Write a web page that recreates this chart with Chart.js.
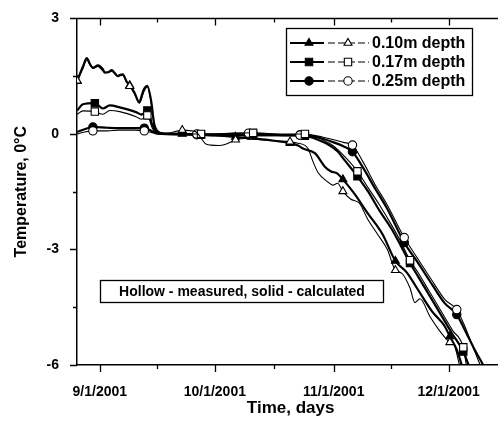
<!DOCTYPE html>
<html>
<head>
<meta charset="utf-8">
<script src="https://cdn.jsdelivr.net/npm/chart.js@4.4.0/dist/chart.umd.min.js"></script>
<style>
  html, body { margin: 0; padding: 0; background: #fff; overflow: hidden; width: 498px; height: 423px; }
  #wrap { position: relative; width: 510px; height: 423px; }
</style>
</head>
<body>
<div id="wrap"><canvas id="chart" width="510" height="423"></canvas></div>
<script>
/* ===== Data (days since 9/1/2001, temperature in °C) ===== */
const MARK_10 = [-5.9, 7.8, 21.5, 35.4, 49.6, 63.4, 77.1, 91.3];
const MARK_17 = [-1.3, 12.4, 26.4, 40, 53.5, 67.2, 80.9, 94.8];
const MARK_25 = [-1.8, 11.6, 25.3, 38.8, 52.2, 65.9, 79.4, 93.1];

// 0.10 m, calculated
const DAYS_10_CALC = [-5.9, -4.4, -3.4, -2.6, -1.8, -0.5, 0.8, 1.3, 2.2, 3.1, 3.9, 4.7, 5.2, 6.0, 7.0, 7.8, 9.0, 10.3, 11.0, 11.6, 12.4, 13.4, 14.2, 15.0, 16.0, 18, 21.5, 26, 30, 35.4, 40, 45, 49.6, 51.7, 53, 56.1, 58.7, 60.2, 62, 63.4, 66.4, 69.8, 73.7, 77.1, 80.1, 82.7, 86.6, 90, 91.3, 93.1, 94.4];
const TEMP_10_CALC = [1.38, 1.75, 1.97, 1.82, 1.72, 1.78, 1.68, 1.59, 1.6, 1.66, 1.58, 1.5, 1.53, 1.55, 1.36, 1.26, 1.08, 0.82, 1.02, 1.18, 1.25, 0.85, 0.25, 0.08, 0.02, 0.0, 0.0, -0.02, -0.04, -0.08, -0.12, -0.17, -0.24, -0.3, -0.38, -0.5, -0.85, -0.97, -1.03, -1.18, -1.55, -2.05, -2.6, -3.3, -3.6, -4.0, -4.6, -5.0, -5.26, -5.6, -6.0];

// 0.10 m, measured
const DAYS_10_MEAS = [-5.9, -4.4, -3.4, -2.6, -1.8, -0.5, 1.3, 3.1, 4.7, 6.0, 7.0, 7.8, 9.0, 10.3, 11.6, 12.4, 13.4, 14.2, 15.0, 16.0, 18, 21.5, 25, 26.5, 27.5, 29, 31, 33, 35.4, 38, 42, 46, 49.6, 51.7, 54.3, 55.6, 56.9, 59.5, 60.8, 62, 63.4, 65.4, 67.7, 69.8, 72.4, 75, 77.1, 78.8, 80.9, 82.2, 83.5, 86.1, 88.4, 90, 91.3, 92.5, 93.8];
const TEMP_10_MEAS = [1.38, 1.7, 1.92, 1.8, 1.7, 1.75, 1.6, 1.62, 1.5, 1.52, 1.35, 1.24, 1.05, 0.8, 1.12, 1.22, 0.8, 0.2, 0.05, 0.0, 0.02, 0.1, 0.06, -0.12, -0.25, -0.29, -0.3, -0.26, -0.15, -0.12, -0.15, -0.18, -0.2, -0.24, -0.38, -0.72, -1.0, -1.25, -1.33, -1.28, -1.49, -1.69, -1.8, -2.2, -2.6, -3.0, -3.54, -3.62, -4.0, -4.38, -4.28, -4.74, -5.08, -5.28, -5.41, -5.5, -6.0];

// 0.17 m, calculated
const DAYS_17_CALC = [-5.9, -4.4, -1.3, 0.8, 2.6, 5.2, 9.6, 10.9, 12.4, 13.7, 14.7, 16, 20, 26.4, 30, 35, 40, 46, 50, 53.5, 56.9, 60, 62, 64, 67.2, 70, 73, 76.3, 78.5, 80.9, 83, 86, 89, 92, 94.8, 96.2];
const TEMP_17_CALC = [0.61, 0.77, 0.8, 0.66, 0.74, 0.69, 0.56, 0.5, 0.61, 0.23, 0.06, 0.0, 0.0, -0.02, -0.03, -0.03, -0.03, -0.03, -0.04, -0.05, -0.15, -0.3, -0.45, -0.7, -1.1, -1.5, -2.0, -2.5, -2.9, -3.35, -3.7, -4.2, -4.7, -5.2, -5.65, -6.0];

// 0.17 m, measured
const DAYS_17_MEAS = [-5.9, -4.4, -1.3, 0.8, 2.6, 5.2, 9.6, 10.9, 12.4, 13.7, 14.7, 16, 20, 26.4, 30, 35, 40, 46, 50, 53.5, 56, 58, 60, 62, 64, 67.2, 70, 73, 76.3, 78.5, 80.9, 83, 86, 89, 92, 94.8, 95.6];
const TEMP_17_MEAS = [0.51, 0.6, 0.58, 0.51, 0.61, 0.58, 0.44, 0.38, 0.48, 0.15, 0.03, 0.0, 0.0, 0.0, 0.0, 0.02, 0.03, 0.0, 0.0, 0.0, -0.05, -0.15, -0.25, -0.4, -0.6, -0.97, -1.4, -1.85, -2.4, -2.8, -3.28, -3.6, -4.1, -4.6, -5.1, -5.54, -6.0];

// 0.25 m, calculated
const DAYS_25_CALC = [-5.9, -4, -1.8, 2, 5, 9, 11.6, 13.4, 14.7, 16, 25.3, 38.8, 52.2, 55, 58, 61, 63.5, 65.9, 68.5, 72, 75, 79.4, 83, 86.6, 90, 93.1, 95, 97.5, 100];
const TEMP_25_CALC = [0.05, 0.12, 0.18, 0.16, 0.15, 0.15, 0.15, 0.08, 0.02, 0.0, -0.02, -0.03, -0.03, -0.05, -0.12, -0.22, -0.32, -0.46, -0.85, -1.45, -1.95, -2.82, -3.35, -3.9, -4.4, -4.69, -5.05, -5.55, -6.0];

// 0.25 m, measured
const DAYS_25_MEAS = [-5.9, -4, -1.8, 2, 5, 9, 11.6, 13.4, 15, 25.3, 38.8, 52.2, 55, 58, 61, 63.5, 65.9, 68.5, 72, 75, 79.4, 83, 86.6, 90, 93.1, 95, 97, 99.2];
const TEMP_25_MEAS = [0.0, 0.05, 0.08, 0.08, 0.1, 0.1, 0.08, 0.04, 0.0, 0.0, 0.02, -0.03, -0.03, -0.08, -0.15, -0.22, -0.29, -0.7, -1.35, -1.85, -2.69, -3.25, -3.8, -4.3, -4.56, -4.95, -5.45, -6.0];

const X_TICKS = [0, 15, 30, 45.5, 61, 76, 91];
const X_LABELS = { 0: '9/1/2001', 30: '10/1/2001', 61: '11/1/2001', 91: '12/1/2001' };
const Y_TICKS = [-6, -4.5, -3, -1.5, 0, 1.5, 3];
const Y_LABELS = { '-6': '-6', '-3': '-3', '0': '0', '3': '3' };

const LEGEND = ['0.10m depth', '0.17m depth', '0.25m depth'];
const LEGEND_STYLES = ['triangle', 'rect', 'circle'];
const NOTE = 'Hollow - measured, solid - calculated';

/* ===== Helpers ===== */
const FONT = '"Liberation Sans", Arial, Helvetica, sans-serif';
Chart.defaults.font.family = FONT;
Chart.defaults.color = '#000';

const RADIUS = { triangle: 4.6, rect: 5.2, circle: 4.2 };

function series(days, temps, style, filled, marks) {
  return {
    data: days.map((d, i) => ({ x: d, y: temps[i] })),
    borderColor: '#000',
    borderWidth: filled ? 2.2 : 1.1,
    pointStyle: style,
    pointRadius: ctx => (ctx.raw && marks.includes(ctx.raw.x)) ? RADIUS[style] : 0,
    pointHoverRadius: 0,
    pointBackgroundColor: filled ? '#000' : '#fff',
    pointBorderColor: '#000',
    pointBorderWidth: 1.1,
    cubicInterpolationMode: 'monotone',
    fill: false
  };
}

/* ===== Frame + ticks ===== */
const framePlugin = {
  id: 'frame',
  afterDraw(chart) {
    const { ctx, chartArea: a, scales: { x, y } } = chart;
    ctx.save();
    ctx.strokeStyle = '#000';
    ctx.lineWidth = 1.5;
    ctx.beginPath();
    ctx.moveTo(a.left, a.top);
    ctx.lineTo(a.right, a.top);
    ctx.stroke();

    ctx.lineWidth = 1.3;
    ctx.beginPath();
    X_TICKS.forEach(v => {
      const px = Math.round(x.getPixelForValue(v)) + 0.5;
      const len = X_LABELS[v] ? 7 : 4;
      ctx.moveTo(px, a.bottom);
      ctx.lineTo(px, a.bottom + len);
      ctx.moveTo(px, a.top);
      ctx.lineTo(px, a.top + len);
    });
    Y_TICKS.forEach(v => {
      const py = Math.round(y.getPixelForValue(v)) + 0.5;
      const len = Y_LABELS[v] ? 7 : 4;
      ctx.moveTo(a.left, py);
      ctx.lineTo(a.left - len, py);
    });
    ctx.stroke();
    ctx.restore();
  }
};

/* ===== Legend box + note ===== */
const legendPlugin = {
  id: 'pairLegend',
  afterDraw(chart) {
    const { ctx } = chart;
    const h = Chart.helpers;
    ctx.save();

    // legend box
    ctx.fillStyle = '#fff';
    ctx.fillRect(286, 28, 186, 67);
    ctx.strokeStyle = '#000';
    ctx.lineWidth = 1.3;
    ctx.strokeRect(286.5, 28.5, 186, 67);

    const rows = [43, 62, 81];
    LEGEND.forEach((label, i) => {
      const yy = rows[i];
      const style = LEGEND_STYLES[i];
      ctx.strokeStyle = '#000';
      ctx.lineWidth = 2;
      ctx.setLineDash([]);
      ctx.beginPath();
      ctx.moveTo(290, yy);
      ctx.lineTo(324, yy);
      ctx.stroke();
      ctx.fillStyle = '#000';
      ctx.lineWidth = 1.1;
      h.drawPoint(ctx, { pointStyle: style, radius: RADIUS[style], rotation: 0, borderWidth: 1.1 }, 309, yy);

      ctx.lineWidth = 1.1;
      ctx.setLineDash([7, 3]);
      ctx.beginPath();
      ctx.moveTo(328, yy);
      ctx.lineTo(369, yy);
      ctx.stroke();
      ctx.setLineDash([]);
      ctx.fillStyle = '#fff';
      h.drawPoint(ctx, { pointStyle: style, radius: RADIUS[style], rotation: 0, borderWidth: 1.1 }, 348, yy);

      ctx.fillStyle = '#000';
      ctx.font = 'bold 16px ' + FONT;
      ctx.textAlign = 'left';
      ctx.textBaseline = 'middle';
      ctx.fillText(label, 372, yy + 1);
    });

    // note box
    ctx.fillStyle = '#fff';
    ctx.fillRect(100, 280, 283, 22);
    ctx.strokeStyle = '#000';
    ctx.lineWidth = 1.3;
    ctx.strokeRect(100.5, 280.5, 283, 22);
    ctx.fillStyle = '#000';
    ctx.font = 'bold 14px ' + FONT;
    ctx.textAlign = 'center';
    ctx.textBaseline = 'middle';
    ctx.fillText(NOTE, 242, 292);

    ctx.restore();
  }
};

/* ===== Chart ===== */
new Chart(document.getElementById('chart'), {
  type: 'line',
  data: {
    datasets: [
      series(DAYS_10_MEAS, TEMP_10_MEAS, 'triangle', false, MARK_10),
      series(DAYS_17_MEAS, TEMP_17_MEAS, 'rect', false, MARK_17),
      series(DAYS_25_MEAS, TEMP_25_MEAS, 'circle', false, MARK_25),
      series(DAYS_10_CALC, TEMP_10_CALC, 'triangle', true, MARK_10),
      series(DAYS_17_CALC, TEMP_17_CALC, 'rect', true, MARK_17),
      series(DAYS_25_CALC, TEMP_25_CALC, 'circle', true, MARK_25)
    ]
  },
  options: {
    responsive: false,
    animation: false,
    events: [],
    layout: { padding: { top: 15, right: 2, left: 0, bottom: 0 } },
    plugins: { legend: { display: false }, tooltip: { enabled: false } },
    scales: {
      x: {
        type: 'linear',
        min: -5.95,
        max: 105.5,
        afterFit: s => { s.height = 58; },
        afterBuildTicks: s => { s.ticks = X_TICKS.map(v => ({ value: v })); },
        grid: { display: false },
        border: { display: true, color: '#000', width: 1.5 },
        ticks: {
          autoSkip: false,
          maxRotation: 0,
          padding: 11,
          font: { size: 14, weight: 'bold' },
          callback: v => X_LABELS[v] || ''
        },
        title: {
          display: true,
          text: 'Time, days',
          font: { size: 17, weight: 'bold' },
          padding: { top: 0, bottom: 4 }
        }
      },
      y: {
        min: -6,
        max: 3,
        afterFit: s => { s.width = 77; },
        afterBuildTicks: s => { s.ticks = Y_TICKS.map(v => ({ value: v })); },
        grid: { display: false },
        border: { display: true, color: '#000', width: 1.5 },
        ticks: {
          autoSkip: false,
          padding: 10,
          font: { size: 14, weight: 'bold' },
          callback: v => Y_LABELS[String(v)] || ''
        },
        title: {
          display: true,
          text: 'Temperature, 0°C',
          font: { size: 16, weight: 'bold' },
          padding: { top: 12, bottom: 0 }
        }
      }
    }
  },
  plugins: [framePlugin, legendPlugin]
});
</script>
</body>
</html>
